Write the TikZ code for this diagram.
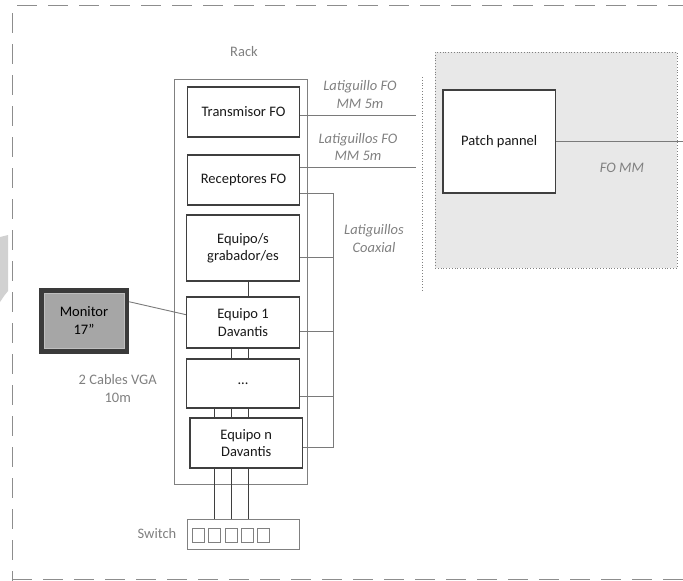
\documentclass[tikz,border=0pt]{standalone}
\usepackage{fontspec}
\setmainfont{Carlito}
\usetikzlibrary{calc}
\definecolor{boxline}{HTML}{3F3F3F}
\definecolor{conn}{HTML}{7A7A7A}
\definecolor{lbl}{HTML}{808080}
\definecolor{area}{HTML}{E8E8E8}
\definecolor{monout}{HTML}{3A3A3A}
\definecolor{monin}{HTML}{A6A6A6}
\begin{document}
\begin{tikzpicture}[x=1pt,y=-1pt,
  every node/.style={font=\fontsize{14.5}{17.5}\selectfont, inner sep=0pt},
  unit/.style={draw=boxline, line width=1.1pt, fill=white, align=center, text=black!90},
  wire/.style={draw=conn, line width=0.9pt},
  frame/.style={draw=lbl!90, line width=1pt, dash pattern=on 20pt off 11pt},
  glabel/.style={text=lbl, align=center},
  ilabel/.style={text=lbl, align=center, font=\fontsize{14.5}{17.5}\selectfont\itshape},
  port/.style={draw=lbl, line width=0.9pt}]
\useasboundingbox (0,0) rectangle (683,581);

% outer dashed frame
\draw[frame] (17,5) -- (683,5);
\draw[frame] (12,13) -- (12,581);
\draw[frame] (12,579) -- (683,579);

% clipped shape at left edge
\fill[black!18] (0,237) -- (8,235) -- (8,291) -- (4,296) -- (0,302) -- cycle;

% grey FO area
\node[draw=lbl, line width=0.8pt, dotted, fill=area, minimum width=242pt, minimum height=216pt] (foarea) at (556,160) {};
\node[ilabel] (fomm) at (622,168) {FO MM};

% dotted separator
\coordinate (sepTop) at (422,77);
\coordinate (sepBot) at (422,290);
\draw[draw=lbl, line width=0.8pt, dotted] (sepTop) -- (sepBot);

% rack
\node[draw=lbl, line width=0.9pt, minimum width=133pt, minimum height=405pt] (rack) at (240.5,281.5) {};
\node[glabel] (racklbl) at (244,52) {Rack};

% units
\node[unit, minimum width=112pt, minimum height=50pt] (tx) at (243.5,112) {Transmisor FO};
\node[unit, minimum width=112pt, minimum height=50pt] (rx) at (243.5,180) {Receptores FO};
\node[unit, minimum width=113pt, minimum height=66pt] (grab) at (243,248) {Equipo/s\\grabador/es};
\node[unit, minimum width=113pt, minimum height=51pt] (eq1) at (243,322.5) {Equipo 1\\Davantis};
\node[unit, minimum width=113pt, minimum height=49pt] (dots) at (243,383.5) {...};
\node[unit, minimum width=112.5pt, minimum height=50pt] (eqn) at (246.25,443) {Equipo n\\Davantis};

% switch
\node[draw=lbl, line width=0.9pt, minimum width=111.3pt, minimum height=30pt] (sw) at (243.35,534) {};
\node[glabel, anchor=east] (swlbl) at (176.5,534) {Switch};
\foreach \i/\xx in {1/192.7,2/208.9,3/225.1,4/241.3,5/257.5}
  \draw[port] (\xx,528) rectangle ++(12,14);

% patch panel
\node[unit, minimum width=112.5pt, minimum height=103pt] (patch) at (499.25,141.5) {Patch pannel};

% monitor
\node[fill=monout, minimum width=90pt, minimum height=66pt] (monbox) at (84,321) {};
\node[fill=monin, draw=black!25, line width=0.6pt, minimum width=80pt, minimum height=55pt, align=center, text=black] (mon) at (84,320.5) {Monitor\\17"};

% labels
\node[ilabel] (l1) at (360,94.5) {Latiguillo FO\\MM 5m};
\node[ilabel] (l2) at (358,147) {Latiguillos FO\\MM 5m};
\node[ilabel] (l3) at (374,238.5) {Latiguillos\\Coaxial};
\node[glabel] (l4) at (117.7,388.5) {2 Cables VGA\\10m};

% FO links
\coordinate (txend) at (416,115);
\coordinate (rxend) at (416,167);
\coordinate (ppend) at (683,141);
\draw[wire] (tx.east |- txend) -- (txend);
\draw[wire] (rx.east |- rxend) -- (rxend);
\draw[wire] (patch.east |- ppend) -- (ppend);

% coax bus
\coordinate (busTop) at (333.5,193);
\coordinate (busBot) at (333.5,447);
\draw[wire] (busTop) -- (busBot);
\draw[wire] (rx.east |- busTop) -- (busTop);
\draw[wire] (grab.east |- 0,257) -- (busTop |- 0,257);
\draw[wire] (eq1.east |- 0,331) -- (busTop |- 0,331);
\draw[wire] (dots.east |- 0,396) -- (busTop |- 0,396);
\draw[wire] (eqn.east |- busBot) -- (busBot);

% monitor link
\draw[wire] ($(monbox.north east)!0.21!(monbox.south east)$) -- ($(eq1.north west)!0.35!(eq1.south west)$);

% vertical links between units
\draw[wire, draw=boxline] (grab.south -| 248.5,0) -- (eq1.north -| 248.5,0);
\foreach \xx in {231,248.5}
  \draw[wire, draw=boxline] (eq1.south -| \xx,0) -- (dots.north -| \xx,0);
\foreach \xx in {214.5,231,248.5}{
  \draw[wire, draw=boxline] (dots.south -| \xx,0) -- (eqn.north -| \xx,0);
  \draw[wire, draw=boxline] (eqn.south -| \xx,0) -- (sw.north -| \xx,0);
}
\end{tikzpicture}
\end{document}
